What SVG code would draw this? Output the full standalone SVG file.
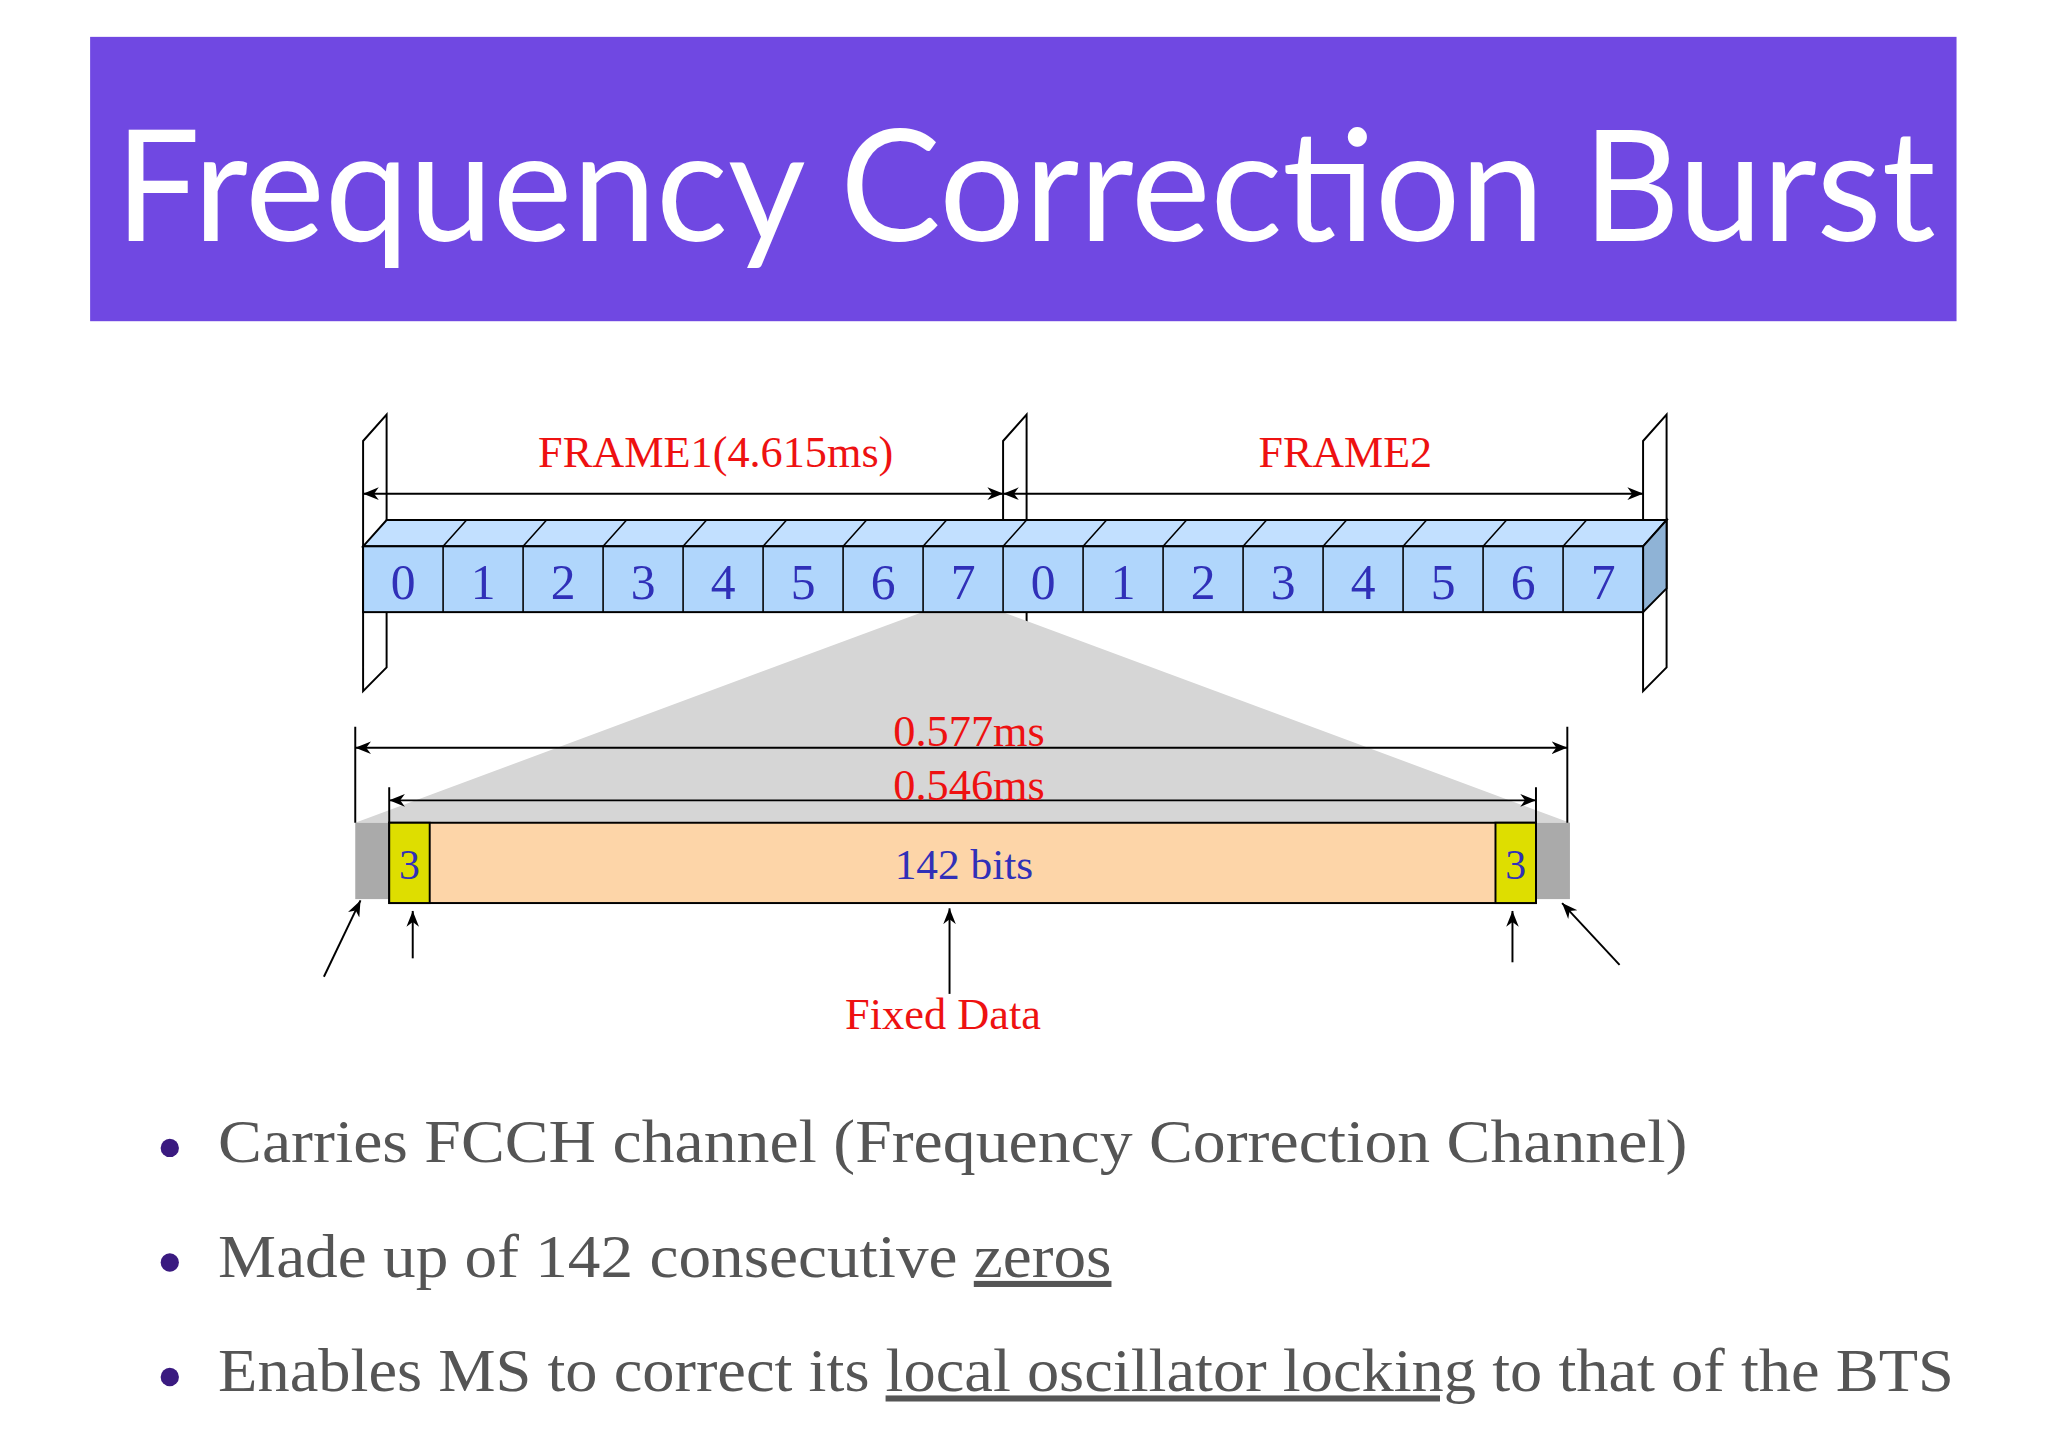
<svg xmlns="http://www.w3.org/2000/svg" width="2048" height="1448" viewBox="0 0 2048 1448">
<defs>
<style>
.ser{font-family:"Liberation Serif","Times New Roman",serif}
.red{fill:#ee1111}
.blu{fill:#3030b8}
.ln{stroke:#000;stroke-width:1.5;fill:none}
.wall{fill:#fff;stroke:#000;stroke-width:1.5}
.bul{font-family:"Liberation Serif",serif;font-size:46px;fill:#555}
</style>
<marker id="ah" viewBox="0 0 10 10" refX="10" refY="5" markerWidth="12" markerHeight="12" markerUnits="userSpaceOnUse" orient="auto-start-reverse"><path d="M0,1 L10,5 L0,9 L3,5 z" fill="#000"/></marker>
</defs>
<rect width="2048" height="1448" fill="#fff"/>
<g transform="scale(1.3061,1.3164)">
<g id="title">
<rect x="69" y="28" width="1429" height="216" fill="#7048e2"/>
<text x="88" y="183" font-family="Lato,'Open Sans',sans-serif" font-size="118" fill="#fff" textLength="1394" lengthAdjust="spacingAndGlyphs">Frequency Correction Burst</text>
</g>
<g id="walls">
<path class="wall" d="M278,335 L296,315 L296,507 L278,525 Z"/>
<path class="wall" d="M768,335 L786,315 L786,507 L768,525 Z"/>
<path class="wall" d="M1258,335 L1276,315 L1276,507 L1258,525 Z"/>
</g>
<g id="fan">
<polygon points="706,465 768,465 1202,625 272,625" fill="#d6d6d6"/>
<rect x="272" y="625" width="26" height="58" fill="#aaa"/>
<rect x="1176" y="625" width="26" height="58" fill="#aaa"/>
</g>
<g id="slots">
<polygon points="278,415 296,395 1276,395 1258,415" fill="#c2e0ff" stroke="#000" stroke-width="1.5"/>
<polygon points="1258,415 1276,395 1276,447 1258,465" fill="#8fb3d6" stroke="#000" stroke-width="1.5"/>
<rect x="278" y="415" width="980" height="50" fill="#b0d6fc" stroke="#000" stroke-width="1.5"/>
<g stroke="#000" stroke-width="1.2">
<path d="M339.25,415V465M400.5,415V465M461.75,415V465M523,415V465M584.25,415V465M645.5,415V465M706.75,415V465M768,415V465M829.25,415V465M890.5,415V465M951.75,415V465M1013,415V465M1074.25,415V465M1135.5,415V465M1196.75,415V465"/>
<path d="M339.25,415l18,-20M400.5,415l18,-20M461.75,415l18,-20M523,415l18,-20M584.25,415l18,-20M645.5,415l18,-20M706.75,415l18,-20M768,415l18,-20M829.25,415l18,-20M890.5,415l18,-20M951.75,415l18,-20M1013,415l18,-20M1074.25,415l18,-20M1135.5,415l18,-20M1196.75,415l18,-20"/>
</g>
<g class="ser blu" font-size="38" text-anchor="middle">
<text x="308.6" y="455">0</text><text x="369.9" y="455">1</text><text x="431.1" y="455">2</text><text x="492.4" y="455">3</text><text x="553.6" y="455">4</text><text x="614.9" y="455">5</text><text x="676.1" y="455">6</text><text x="737.4" y="455">7</text>
<text x="798.6" y="455">0</text><text x="859.9" y="455">1</text><text x="921.1" y="455">2</text><text x="982.4" y="455">3</text><text x="1043.6" y="455">4</text><text x="1104.9" y="455">5</text><text x="1166.1" y="455">6</text><text x="1227.4" y="455">7</text>
</g>
</g>
<g id="burst">
<rect x="298" y="625" width="878" height="61" fill="#fdd5a8" stroke="#000" stroke-width="1.5"/>
<rect x="298" y="625" width="31" height="61" fill="#dede00" stroke="#000" stroke-width="1.5"/>
<rect x="1145" y="625" width="31" height="61" fill="#dede00" stroke="#000" stroke-width="1.5"/>
<g class="ser blu" font-size="32" text-anchor="middle">
<text x="313.5" y="668">3</text><text x="738" y="668" textLength="106" lengthAdjust="spacingAndGlyphs">142 bits</text><text x="1160.5" y="668">3</text>
</g>
</g>
<g id="connectors">
<path class="ln" d="M278,375H768" marker-start="url(#ah)" marker-end="url(#ah)"/>
<path class="ln" d="M768,375H1258" marker-start="url(#ah)" marker-end="url(#ah)"/>
<path class="ln" d="M272,552V625M1200,552V625M298,598V625M1176,598V625"/>
<path class="ln" d="M272,568H1200" marker-start="url(#ah)" marker-end="url(#ah)"/>
<path class="ln" d="M298,608H1176" marker-start="url(#ah)" marker-end="url(#ah)"/>
<path class="ln" d="M248,742L276,684" marker-end="url(#ah)"/>
<path class="ln" d="M316,728V692" marker-end="url(#ah)"/>
<path class="ln" d="M727,755V690" marker-end="url(#ah)"/>
<path class="ln" d="M1158,731V692" marker-end="url(#ah)"/>
<path class="ln" d="M1240,733L1196,686" marker-end="url(#ah)"/>
</g>
<g id="labels" class="ser red" font-size="33" text-anchor="middle">
<text x="548" y="355" textLength="272" lengthAdjust="spacingAndGlyphs">FRAME1(4.615ms)</text>
<text x="1030" y="355" textLength="133" lengthAdjust="spacingAndGlyphs">FRAME2</text>
<text x="742" y="567" textLength="116" lengthAdjust="spacingAndGlyphs">0.577ms</text>
<text x="742" y="608" textLength="116" lengthAdjust="spacingAndGlyphs">0.546ms</text>
<text x="722" y="782" textLength="150" lengthAdjust="spacingAndGlyphs">Fixed Data</text>
</g>
<g id="bullets">
<circle cx="130" cy="872" r="7" fill="#3a1a80"/>
<circle cx="130" cy="959" r="7" fill="#3a1a80"/>
<circle cx="130" cy="1046" r="7" fill="#3a1a80"/>
<text class="bul" x="167" y="883" textLength="1125" lengthAdjust="spacingAndGlyphs">Carries FCCH channel (Frequency Correction Channel)</text>
<text class="bul" x="167" y="970" textLength="684" lengthAdjust="spacingAndGlyphs">Made up of 142 consecutive <tspan text-decoration="underline">zeros</tspan></text>
<text class="bul" x="167" y="1057" textLength="1329" lengthAdjust="spacingAndGlyphs">Enables MS to correct its <tspan text-decoration="underline">local oscillator locking</tspan> to that of the BTS</text>
</g>
</g>
</svg>
